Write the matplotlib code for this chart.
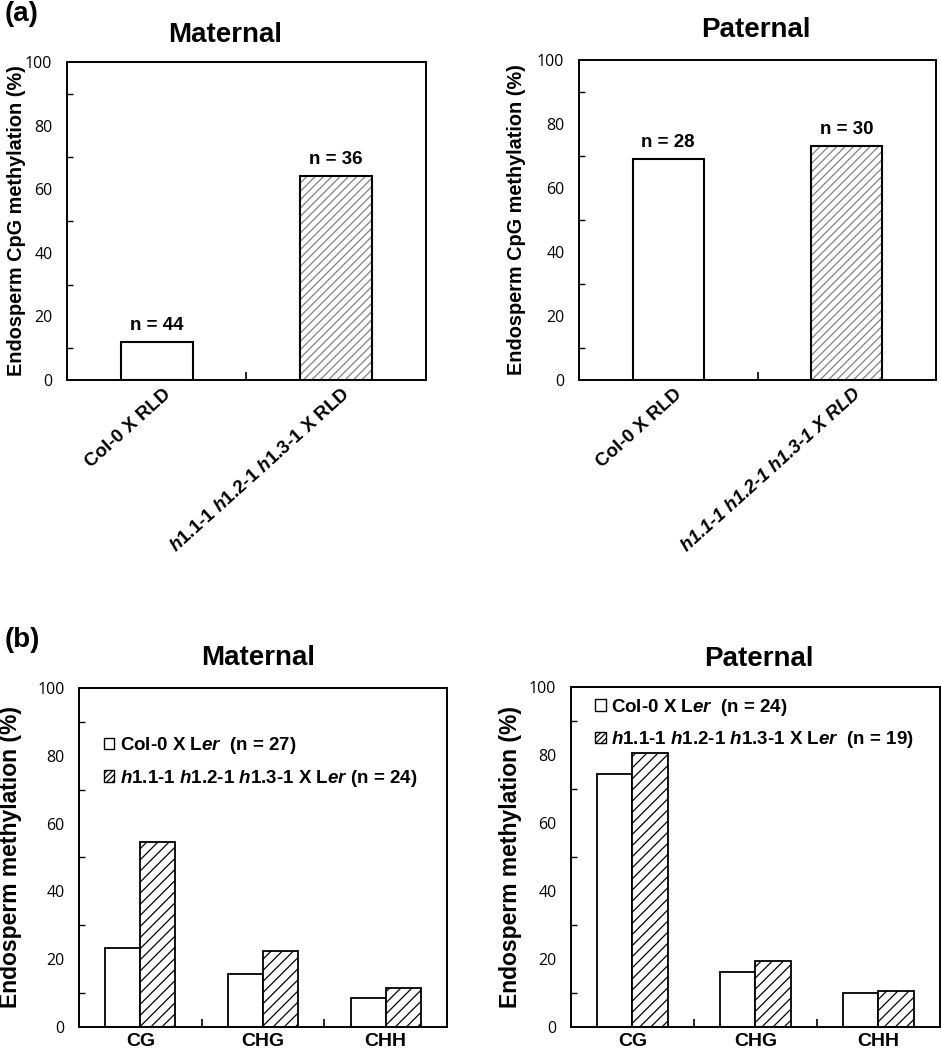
import matplotlib
matplotlib.use("Agg")
import matplotlib.pyplot as plt
import matplotlib.transforms as mtransforms
from matplotlib.patches import Patch
from matplotlib.ticker import MultipleLocator, FixedLocator

plt.rcParams['font.family'] = ['Liberation Sans', 'DejaVu Sans']
plt.rcParams['mathtext.fontset'] = 'custom'
plt.rcParams['mathtext.it'] = 'Liberation Sans:bold:italic'
plt.rcParams['mathtext.rm'] = 'Liberation Sans:bold'
plt.rcParams['mathtext.bf'] = 'Liberation Sans:bold'
plt.rcParams['hatch.linewidth'] = 0.9

# (a) CpG methylation, two crosses
a_labels_mat = ["Col-0 X RLD",
                r"$\mathit{h1.1}$-$\mathit{1}$ $\mathit{h1.2}$-$\mathit{1}$ $\mathit{h1.3}$-$\mathit{1}$ X RLD"]
a_labels_pat = ["Col-0 X RLD", "h1.1-1 h1.2-1 h1.3-1 X RLD"]
a_maternal = [12, 64]
a_paternal = [69, 73]
a_n_maternal = ["n = 44", "n = 36"]
a_n_paternal = ["n = 28", "n = 30"]

# (b) methylation by context
contexts = ["CG", "CHG", "CHH"]
b_mat_col = [23.3, 15.7, 8.5]
b_mat_h1 = [54.7, 22.3, 11.6]
b_pat_col = [74.5, 16.2, 10.1]
b_pat_h1 = [80.6, 19.3, 10.5]
b_leg_mat = [r"Col-0 X L$\mathit{er}$  (n = 27)",
             r"$\mathit{h1.1}$-$\mathit{1}$ $\mathit{h1.2}$-$\mathit{1}$ $\mathit{h1.3}$-$\mathit{1}$ X L$\mathit{er}$ (n = 24)"]
b_leg_pat = [r"Col-0 X L$\mathit{er}$  (n = 24)",
             r"$\mathit{h1.1}$-$\mathit{1}$ $\mathit{h1.2}$-$\mathit{1}$ $\mathit{h1.3}$-$\mathit{1}$ X L$\mathit{er}$  (n = 19)"]

TICKFONT = 'Open Sans'


def style_axis(ax, ncat, ylabel, ylsize, ylx):
	ax.set_ylim(0, 100)
	ax.set_xlim(-0.5, ncat - 0.5)
	for s in ax.spines.values():
		s.set_linewidth(1.4)
	ax.yaxis.set_major_locator(MultipleLocator(20))
	ax.yaxis.set_minor_locator(FixedLocator([10, 30, 50, 70, 90]))
	ax.tick_params(axis='y', which='major', length=0, pad=10.5)
	ax.tick_params(axis='y', which='minor', direction='in', length=4, width=1)
	for t in ax.get_yticklabels():
		t.set_fontfamily(TICKFONT)
		t.set_fontsize(11.5)
	ax.xaxis.set_minor_locator(FixedLocator([i + 0.5 for i in range(ncat - 1)]))
	ax.tick_params(axis='x', which='minor', direction='in', length=6, width=1.2)
	ax.tick_params(axis='x', which='major', length=0)
	ax.set_ylabel(ylabel, fontsize=ylsize, fontweight='bold')
	# x of the label = right edge of the rotated text, in figure pixels
	tr = mtransforms.blended_transform_factory(ax.figure.transFigure, ax.transAxes)
	ax.yaxis.set_label_coords(ylx / 941, 0.5, transform=tr)


fig = plt.figure(figsize=(9.41, 10.5), dpi=100)

# ---- panel (a)
ax1 = fig.add_axes([0.0712, 0.6381, 0.3815, 0.3029])
ax2 = fig.add_axes([0.6153, 0.6381, 0.3794, 0.3048])

shift = mtransforms.ScaledTranslation(0.06, 0, fig.dpi_scale_trans)
for ax, vals, ns, labels, italic, ylx in [(ax1, a_maternal, a_n_maternal, a_labels_mat, False, 26),
                                         (ax2, a_paternal, a_n_paternal, a_labels_pat, True, 526)]:
	x = list(range(len(vals)))
	ax.bar(x[1], vals[1], 0.4, color='white', edgecolor='#808080', hatch='////', linewidth=0)
	ax.bar(x, vals, 0.4, fill=False, edgecolor='black', linewidth=1.5)
	for xi, v, n in zip(x, vals, ns):
		ax.text(xi, v + 2.5, n, ha='center', va='bottom', fontsize=13.5, fontweight='bold')
	style_axis(ax, 2, "Endosperm CpG methylation (%)", 14.3, ylx)
	ax.set_xticks(x)
	ax.set_xticklabels(labels, rotation=42, ha='right', va='top', rotation_mode='anchor',
	                   fontsize=13.5, fontweight='bold')
	if italic:
		ax.get_xticklabels()[1].set_fontstyle('italic')
	ax.tick_params(axis='x', which='major', pad=4)
	for t in ax.get_xticklabels():
		t.set_transform(t.get_transform() + shift)

fig.text(225 / 941, 1 - 35 / 1050, "Maternal", ha='center', va='center', fontsize=20, fontweight='bold')
fig.text(756 / 941, 1 - 30 / 1050, "Paternal", ha='center', va='center', fontsize=20, fontweight='bold')
fig.text(5 / 941, 1 - 14 / 1050, "(a)", ha='left', va='center', fontsize=20, fontweight='bold')

# ---- panel (b)
ax3 = fig.add_axes([0.0840, 0.0219, 0.3911, 0.3229])
ax4 = fig.add_axes([0.6068, 0.0219, 0.3921, 0.3238])

w = 0.285
for ax, col, h1, leg, anchor, ylx in [(ax3, b_mat_col, b_mat_h1, b_leg_mat, (0.068, 0.86), 22),
                                      (ax4, b_pat_col, b_pat_h1, b_leg_pat, (0.066, 0.972), 522)]:
	x = list(range(len(contexts)))
	xl = [i - w / 2 for i in x]
	xr = [i + w / 2 for i in x]
	ax.bar(xl, col, w, color='white', edgecolor='black', linewidth=1.3)
	ax.bar(xr, h1, w, color='white', edgecolor='black', hatch='///', linewidth=1.3)
	style_axis(ax, 3, "Endosperm methylation (%)", 16.5, ylx)
	ax.set_xticks(x)
	ax.set_xticklabels(contexts, fontsize=14, fontweight='bold')
	ax.tick_params(axis='x', which='major', pad=4)
	handles = [Patch(facecolor='white', edgecolor='black', linewidth=1),
	           Patch(facecolor='white', edgecolor='black', hatch='//////', linewidth=1)]
	ax.legend(handles, leg, loc='upper left', bbox_to_anchor=anchor, frameon=False,
	          prop={'size': 13.5, 'weight': 'bold'}, handlelength=0.55, handleheight=0.55,
	          handletextpad=0.3, labelspacing=0.6, borderpad=0, borderaxespad=0)

fig.text(258 / 941, 1 - 658 / 1050, "Maternal", ha='center', va='center', fontsize=20, fontweight='bold')
fig.text(759 / 941, 1 - 659 / 1050, "Paternal", ha='center', va='center', fontsize=20, fontweight='bold')
fig.text(5 / 941, 1 - 640 / 1050, "(b)", ha='left', va='center', fontsize=20, fontweight='bold')

fig.savefig("out.png", dpi=100)
